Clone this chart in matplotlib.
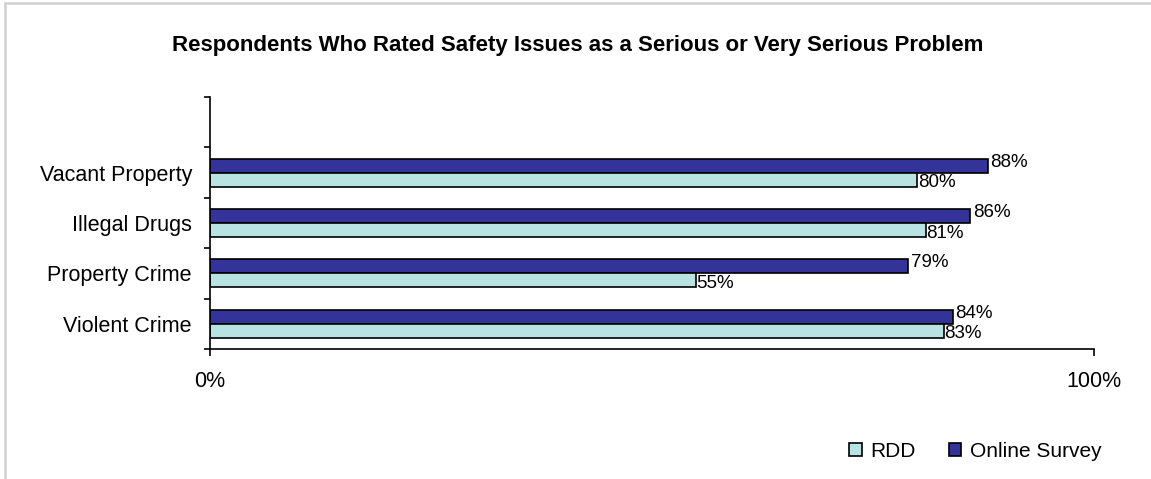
import numpy as np
import matplotlib.pyplot as plt
from matplotlib.patches import Rectangle, Patch
from matplotlib.ticker import FixedLocator

plt.rcParams['font.family'] = ['Liberation Sans', 'DejaVu Sans']

# --- data ---
categories = ['Violent Crime', 'Property Crime', 'Illegal Drugs', 'Vacant Property']
rdd = [83, 55, 81, 80]
online = [84, 79, 86, 88]
series_names = ['RDD', 'Online Survey']
x_ticks = [0, 100]
x_tick_labels = ['0%', '100%']
title = 'Respondents Who Rated Safety Issues as a Serious or Very Serious Problem'

light = '#B9E2E3'
dark = '#333399'

fig = plt.figure(figsize=(11.51, 4.79), dpi=100)

# light gray frame on the top/left edges
fig.patches.append(Rectangle((0.0045, -0.1), 1.2, 1.093, transform=fig.transFigure,
                             fill=False, edgecolor='#D0D0D0', linewidth=1.8))

ax = fig.add_axes([0.1824, 0.2714, 0.7681, 0.5261])

y = np.arange(len(categories))
h = 0.277
ax.barh(y + h / 2, online, height=h, color=dark, edgecolor='black', linewidth=1.2)
ax.barh(y - h / 2, rdd, height=h, color=light, edgecolor='black', linewidth=1.2)

for yi, v in zip(y, online):
    ax.text(v + 0.3, yi + h / 2 + 0.07, f'{v}%', ha='left', va='center', fontsize=13.5)
for yi, v in zip(y, rdd):
    ax.text(v + 0.05, yi - h / 2 - 0.06, f'{v}%', ha='left', va='center', fontsize=13.5)

ax.set_xlim(0, 100)
ax.set_ylim(-0.5, len(categories) + 0.5)

ax.set_xticks(x_ticks)
ax.set_xticklabels(x_tick_labels, fontsize=15.5)
ax.tick_params(axis='x', length=5, width=1.2, pad=11)

ax.set_yticks(y)
ax.set_yticklabels(categories, fontsize=15.5)
ax.yaxis.set_minor_locator(FixedLocator(np.arange(-0.5, len(categories) + 1, 1.0)))
ax.tick_params(axis='y', which='major', length=0, pad=13)
ax.tick_params(axis='y', which='minor', length=4.5, width=1.2)

for s in ['top', 'right']:
    ax.spines[s].set_visible(False)
ax.spines['left'].set_linewidth(1.2)
ax.spines['bottom'].set_linewidth(1.2)

fig.text(0.502, 0.905, title, ha='center', va='center', fontsize=16, fontweight='bold')

handles = [Patch(facecolor=light, edgecolor='black', linewidth=1.2),
           Patch(facecolor=dark, edgecolor='black', linewidth=1.2)]
fig.legend(handles, series_names, loc='center right', bbox_to_anchor=(0.966, 0.058),
           ncol=2, frameon=False, fontsize=15, handlelength=0.6, handleheight=0.6,
           handletextpad=0.4, columnspacing=1.6, borderpad=0)

fig.savefig('out.png', dpi=100)
